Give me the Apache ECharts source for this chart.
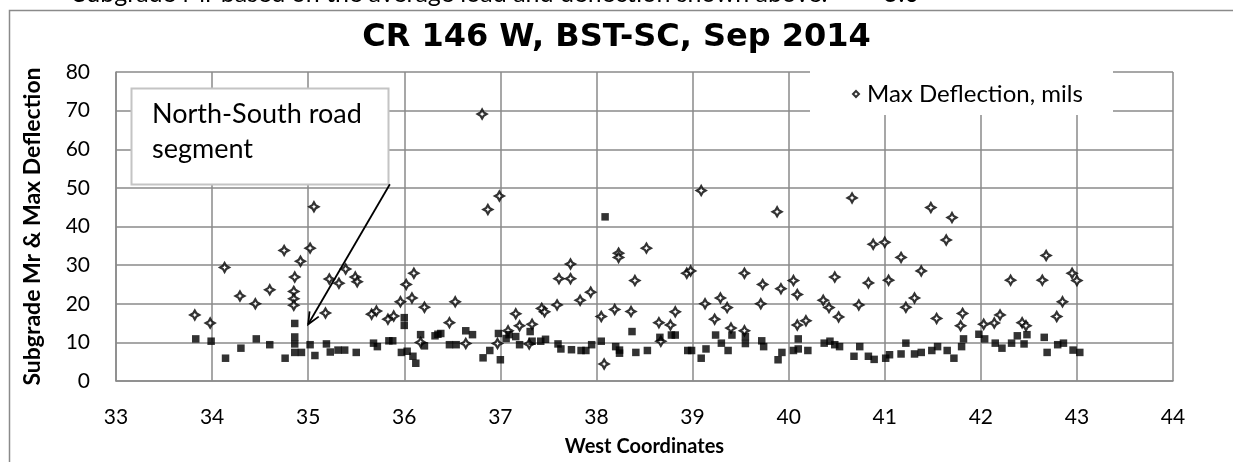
<!DOCTYPE html>
<html>
<head>
<meta charset="utf-8">
<script src="https://cdn.jsdelivr.net/npm/echarts@6/dist/echarts.min.js"></script>
<style>
  html, body { margin: 0; padding: 0; background: #ffffff; }
  #chart { width: 1233px; height: 462px; }
</style>
</head>
<body>
<div id="chart"></div>
<script>
// Maximum deflection (mils) at each test location, by West coordinate
const maxDeflection = [
  [33.82,17.1],[33.98,15.0],[34.13,29.4],[34.29,22.0],[34.45,20.0],[34.60,23.6],
  [34.75,33.8],[34.86,26.9],[34.85,23.2],[34.85,21.3],[34.85,19.6],[34.92,31.0],
  [35.02,34.4],[35.06,45.1],[35.18,17.6],[35.22,26.4],[35.32,25.3],[35.39,29.0],
  [35.49,26.9],[35.51,25.7],[35.66,17.3],[35.71,18.1],[35.83,16.0],[35.89,16.8],
  [35.96,20.5],[36.02,25.0],[36.08,21.5],[36.10,27.9],[36.17,10.0],[36.21,19.1],
  [36.47,15.1],[36.53,20.5],[36.64,9.7],[36.81,69.1],[36.87,44.4],[36.99,47.9],
  [36.97,9.7],[37.08,13.0],[37.16,17.4],[37.20,14.3],[37.30,9.6],[37.33,14.7],
  [37.43,18.8],[37.46,17.9],[37.59,19.7],[37.61,26.5],[37.73,30.3],[37.73,26.5],
  [37.83,20.9],[37.94,23.0],[38.05,16.7],[38.08,4.4],[38.19,18.5],[38.23,33.1],
  [38.23,32.0],[38.36,18.0],[38.40,26.0],[38.52,34.4],[38.65,15.1],[38.67,10.3],
  [38.77,14.5],[38.82,17.9],[38.94,27.9],[38.98,28.5],[39.09,49.3],[39.13,20.0],
  [39.23,16.0],[39.29,21.5],[39.36,19.0],[39.40,13.7],[39.54,27.9],[39.54,13.0],
  [39.71,20.0],[39.73,25.0],[39.88,43.8],[39.92,23.9],[40.05,26.0],[40.09,22.4],
  [40.09,14.5],[40.18,15.6],[40.36,20.9],[40.42,19.0],[40.48,26.9],[40.52,16.6],
  [40.66,47.4],[40.73,19.7],[40.83,25.4],[40.88,35.4],[41.00,35.9],[41.04,26.1],
  [41.17,32.0],[41.22,19.1],[41.31,21.5],[41.38,28.5],[41.48,44.9],[41.54,16.2],
  [41.64,36.5],[41.70,42.3],[41.79,14.3],[41.81,17.5],[42.03,14.7],[42.14,15.0],
  [42.20,17.1],[42.31,26.1],[42.43,15.1],[42.47,14.3],[42.64,26.1],[42.68,32.5],
  [42.79,16.7],[42.85,20.5],[42.95,27.9],[43.00,26.0]
];

// Back-calculated subgrade resilient modulus (Mr) at the same locations
const subgradeMr = [
  [33.83,10.9],[33.99,10.3],[34.14,5.9],[34.30,8.5],[34.46,10.9],[34.60,9.4],
  [34.76,5.9],[34.86,14.9],[34.86,11.4],[34.86,9.6],[34.86,7.4],[34.93,7.4],
  [35.02,9.4],[35.07,6.6],[35.19,9.6],[35.23,7.5],[35.31,8.0],[35.38,8.0],
  [35.50,7.4],[35.68,9.8],[35.72,8.9],[35.84,10.4],[35.88,10.4],[36.00,16.4],
  [36.00,14.4],[35.97,7.4],[36.03,7.7],[36.09,6.4],[36.12,4.6],[36.17,12.0],
  [36.21,9.1],[36.32,11.7],[36.35,12.1],[36.38,12.3],[36.47,9.4],[36.54,9.4],
  [36.64,13.0],[36.71,12.0],[36.82,6.0],[36.89,7.9],[37.00,5.5],[36.98,12.3],
  [37.06,11.0],[37.09,12.0],[37.16,11.5],[37.20,9.4],[37.31,12.8],[37.33,10.3],
  [37.42,10.3],[37.47,10.8],[37.60,9.6],[37.63,8.3],[37.74,8.1],[37.84,7.9],
  [37.89,7.9],[37.95,9.4],[38.05,10.3],[38.09,42.5],[38.20,8.9],[38.24,8.0],
  [38.24,7.2],[38.37,12.8],[38.41,7.4],[38.53,7.9],[38.66,11.3],[38.78,11.9],
  [38.82,11.9],[38.95,7.9],[38.99,7.9],[39.09,5.9],[39.14,8.3],[39.24,11.9],
  [39.30,9.8],[39.37,7.9],[39.41,11.9],[39.55,11.5],[39.55,9.7],[39.72,10.4],
  [39.74,8.9],[39.89,5.5],[39.93,7.4],[40.05,7.9],[40.10,8.3],[40.10,10.9],
  [40.20,7.9],[40.37,9.8],[40.43,10.3],[40.48,9.4],[40.53,8.9],[40.68,6.4],
  [40.74,8.9],[40.83,6.4],[40.89,5.6],[41.01,5.9],[41.05,6.8],[41.17,7.0],
  [41.22,9.8],[41.31,7.0],[41.38,7.4],[41.49,7.9],[41.55,8.9],[41.65,7.9],
  [41.72,5.9],[41.80,8.9],[41.82,10.9],[41.98,12.1],[42.04,10.9],[42.15,9.8],
  [42.22,8.5],[42.32,9.8],[42.38,11.7],[42.45,9.6],[42.48,12.0],[42.66,11.3],
  [42.69,7.4],[42.80,9.4],[42.86,9.8],[42.96,8.0],[43.03,7.4]
];

// Axis ranges and tick steps
const xRange = [33, 44];
const xStep = 1;
const yRange = [0, 80];
const yStep = 10;

const FONT = 'Lato, "Open Sans", sans-serif';
const TITLE_FONT = '"DejaVu Sans", "Open Sans", sans-serif';
const GRID_GREY = '#8a8a8a';

// four-pointed star marker used for the deflection series
const STAR = 'path://M0,-10 L3.6,-3.6 L10,0 L3.6,3.6 L0,10 L-3.6,3.6 L-10,0 L-3.6,-3.6 Z';
const DIAMOND = 'path://M0,-10 L10,0 L0,10 L-10,0 Z';

const chart = echarts.init(document.getElementById('chart'), null, { renderer: 'canvas' });

const option = {
  backgroundColor: '#ffffff',
  animation: false,
  title: {
    text: 'CR 146 W, BST-SC, Sep 2014',
    left: 'center',
    top: 17,
    textStyle: { fontFamily: TITLE_FONT, fontSize: 32, fontWeight: 'bold', color: '#000' }
  },
  legend: {
    data: ['Max Deflection, mils'],
    left: 847,
    top: 77,
    z: 20,
    icon: DIAMOND,
    itemWidth: 6,
    itemHeight: 6,
    itemGap: 10,
    textStyle: { fontFamily: FONT, fontSize: 24, color: '#000', padding: [0, 0, 0, 3] }
  },
  grid: { left: 116, right: 60, top: 72, bottom: 79, containLabel: false },
  xAxis: {
    type: 'value',
    min: xRange[0], max: xRange[1], interval: xStep,
    name: 'West Coordinates',
    nameLocation: 'middle',
    nameGap: 56,
    nameTextStyle: { fontFamily: FONT, fontSize: 20, fontWeight: 'bold', color: '#000' },
    axisLine: { show: true, onZero: false, lineStyle: { color: GRID_GREY, width: 1.5 } },
    axisTick: { show: false },
    axisLabel: { margin: 26, fontFamily: FONT, fontSize: 21, color: '#000' },
    splitLine: { show: true, lineStyle: { color: GRID_GREY, width: 1.5 } }
  },
  yAxis: {
    type: 'value',
    min: yRange[0], max: yRange[1], interval: yStep,
    name: 'Subgrade Mr & Max Deflection',
    nameLocation: 'middle',
    nameGap: 72,
    nameTextStyle: { fontFamily: FONT, fontSize: 23, fontWeight: 'bold', color: '#000' },
    axisLine: { show: true, lineStyle: { color: GRID_GREY, width: 1.5 } },
    axisTick: { show: false },
    axisLabel: { margin: 26, fontFamily: FONT, fontSize: 21, color: '#000' },
    splitLine: { show: true, lineStyle: { color: GRID_GREY, width: 1.5 } }
  },
  series: [
    {
      name: 'Max Deflection, mils',
      type: 'scatter',
      data: maxDeflection,
      symbol: STAR,
      symbolSize: 9,
      itemStyle: { color: '#ffffff', borderColor: '#000000', borderWidth: 2.2 },
      z: 3
    },
    {
      name: 'Subgrade Mr',
      type: 'scatter',
      data: subgradeMr,
      symbol: 'rect',
      symbolSize: 7.5,
      itemStyle: { color: '#000000' },
      z: 4
    }
  ]
};

chart.setOption(option);

// Callout arrow from the note box down to the North-South segment
const arrowFrom = chart.convertToPixel({ gridIndex: 0 }, [35.85, 50.95]);
const arrowTo = chart.convertToPixel({ gridIndex: 0 }, [35.0, 14.7]);
const ang = Math.atan2(arrowFrom[1] - arrowTo[1], arrowFrom[0] - arrowTo[0]);
const headLen = 13, headSpread = 0.42;
const head1 = [arrowTo[0] + headLen * Math.cos(ang + headSpread), arrowTo[1] + headLen * Math.sin(ang + headSpread)];
const head2 = [arrowTo[0] + headLen * Math.cos(ang - headSpread), arrowTo[1] + headLen * Math.sin(ang - headSpread)];

chart.setOption({
  graphic: [
    // caption line of the worksheet above the chart
    {
      type: 'text', left: 73, top: -19, z: 1,
      style: { text: 'Subgrade Mr based on the average load and deflection shown above.', font: '25px ' + FONT, fill: '#000' }
    },
    {
      type: 'text', left: 884, top: -19, z: 1,
      style: { text: '5.0', font: '25px ' + FONT, fill: '#000' }
    },
    // chart area frame
    {
      type: 'rect', z: 1, silent: true,
      shape: { x: 9.5, y: 10.5, width: 1400, height: 600 },
      style: { fill: null, stroke: '#8a8a8a', lineWidth: 1.5 }
    },
    // white panel behind the legend
    {
      type: 'rect', z: 15, silent: true,
      shape: { x: 810, y: 60, width: 303, height: 55 },
      style: { fill: '#ffffff', stroke: null }
    },
    // note box
    {
      type: 'rect', z: 15, silent: true,
      shape: { x: 131.5, y: 88.5, width: 257, height: 96 },
      style: { fill: '#ffffff', stroke: '#c4c4c4', lineWidth: 2 }
    },
    {
      type: 'text', left: 152, top: 97, z: 16,
      style: { text: 'North-South road\nsegment', font: '27px ' + FONT, lineHeight: 35, fill: '#000' }
    },
    {
      type: 'polyline', z: 16, silent: true,
      shape: { points: [arrowFrom, arrowTo] },
      style: { stroke: '#000', lineWidth: 1.8 }
    },
    {
      type: 'polyline', z: 16, silent: true,
      shape: { points: [head1, arrowTo, head2] },
      style: { stroke: '#000', lineWidth: 1.8, fill: null }
    }
  ]
});
</script>
</body>
</html>
